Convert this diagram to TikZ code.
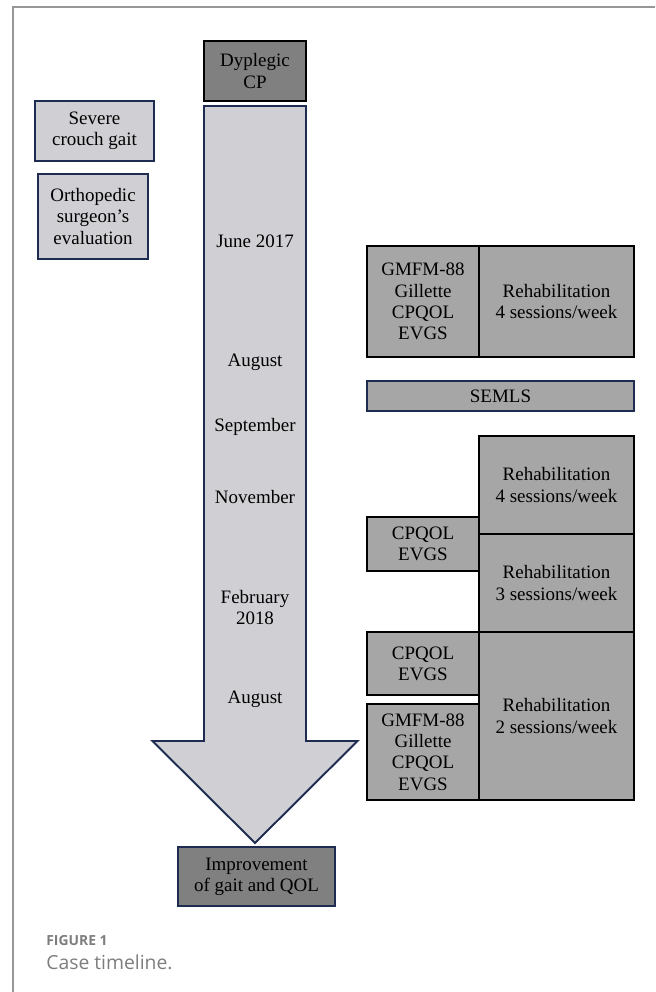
\documentclass[tikz,border=0pt]{standalone}
\usepackage{fontspec}
\setmainfont{Liberation Serif}
\newfontfamily\capfont{Open Sans}
\definecolor{lightbox}{RGB}{208,207,211}
\definecolor{midbox}{RGB}{166,166,166}
\definecolor{darkbox}{RGB}{128,128,128}
\definecolor{navyline}{RGB}{31,44,82}
\definecolor{capgray}{RGB}{125,125,125}
\begin{document}
\begin{tikzpicture}[
    box/.style={draw, line width=1.1pt, inner sep=0pt, align=center,
      font=\fontsize{10.8}{12.1}\selectfont},
    navybox/.style={box, draw=navyline, fill=lightbox},
    testbox/.style={box, draw=black, fill=midbox},
    month/.style={align=center, font=\fontsize{10.8}{12.1}\selectfont},
  ]
    \useasboundingbox (0,0) rectangle (13.1,-19.84);
    \draw[capgray!80, line width=1.1pt] (0.26,-19.84) -- (0.26,-0.14) -- (13.1,-0.14);
    % left column
    \node[navybox, minimum width=2.38cm, minimum height=1.2cm] (gait) at (1.89,-2.62) {Severe\\crouch gait};
    \node[navybox, minimum width=2.2cm, minimum height=1.7cm] (ortho) at (1.86,-4.33) {Orthopedic\\surgeon's\\evaluation};
    % timeline
    \node[box, fill=darkbox, minimum width=2.04cm, minimum height=1.2cm] (cp) at (5.10,-1.42) {Dyplegic\\CP};
    \draw[navyline, fill=lightbox, line width=1.1pt] (4.08,-2.12) -- (6.12,-2.12) -- (6.12,-14.82) -- (7.15,-14.82)
      -- (5.10,-16.86) -- (3.05,-14.82) -- (4.08,-14.82) -- cycle;
    \foreach \y/\txt [count=\k] in {-4.82/June 2017, -7.24/August, -8.54/September, -9.94/November,
      -12.15/{February\\2018}, -13.98/August} {
      \node[month] (month\k) at (5.10,\y) {\txt};
    }
    \node[navybox, fill=darkbox, minimum width=3.14cm, minimum height=1.18cm] (result) at (5.13,-17.53) {Improvement\\of gait and QOL};
    % right column
    \node[testbox, minimum width=2.24cm, minimum height=2.22cm] (testsA) at (8.46,-6.03) {GMFM-88\\Gillette\\CPQOL\\EVGS};
    \node[testbox, minimum width=3.10cm, minimum height=2.22cm] (rehabA) at (11.13,-6.03) {Rehabilitation\\4 sessions/week};
    \node[navybox, fill=midbox, minimum width=5.34cm, minimum height=0.6cm] (semls) at (10.01,-7.92) {SEMLS};
    \node[testbox, minimum width=3.10cm, minimum height=1.96cm] (rehabB) at (11.13,-9.70) {Rehabilitation\\4 sessions/week};
    \node[testbox, minimum width=2.24cm, minimum height=1.08cm] (testsB) at (8.46,-10.88) {CPQOL\\EVGS};
    \node[testbox, minimum width=3.10cm, minimum height=1.96cm] (rehabC) at (11.13,-11.66) {Rehabilitation\\3 sessions/week};
    \node[testbox, minimum width=2.24cm, minimum height=1.26cm] (testsC) at (8.46,-13.27) {CPQOL\\EVGS};
    \node[testbox, minimum width=2.24cm, minimum height=1.92cm] (testsD) at (8.46,-15.04) {GMFM-88\\Gillette\\CPQOL\\EVGS};
    \node[testbox, minimum width=3.10cm, minimum height=3.36cm] (rehabD) at (11.13,-14.32) {Rehabilitation\\2 sessions/week};
    % caption
    \node[anchor=base west, inner sep=0pt, text=capgray, font=\capfont\bfseries\fontsize{7.9}{9}\selectfont] (figlabel) at (0.92,-18.90) {FIGURE 1};
    \node[anchor=base west, inner sep=0pt, text=capgray, font=\capfont\fontsize{11}{13}\selectfont] (figtitle) at (0.92,-19.38) {Case timeline.};
\end{tikzpicture}
\end{document}
